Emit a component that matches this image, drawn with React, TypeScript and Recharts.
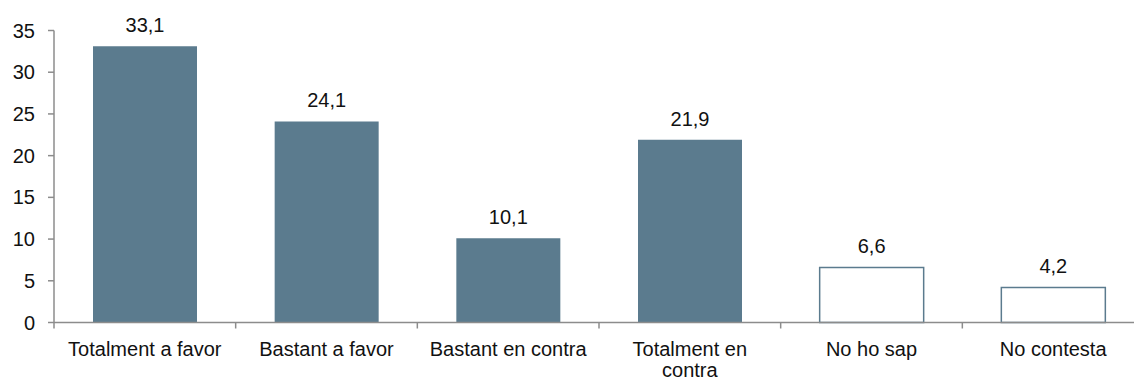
import { Bar, BarChart, Cell, LabelList, XAxis, YAxis } from "recharts";

const categories = ["Totalment a favor", "Bastant a favor", "Bastant en contra", "Totalment en contra", "No ho sap", "No contesta"];
const tickLines = [["Totalment a favor"], ["Bastant a favor"], ["Bastant en contra"], ["Totalment en", "contra"], ["No ho sap"], ["No contesta"]];
const values = [33.1, 24.1, 10.1, 21.9, 6.6, 4.2];
const outlined = [false, false, false, false, true, true];
const yTicks = [0, 5, 10, 15, 20, 25, 30, 35];

const data = categories.map((name, i) => ({ name, value: values[i], lines: tickLines[i], outlined: outlined[i] }));

const CHART_W = 1144;
const CHART_H = 380;
const Y_W = 54;
const BAR = "#5b7b8e";
const AXIS = "#8c8c8c";
const FONT = "'Liberation Sans', Arial, sans-serif";
const band = (CHART_W - Y_W) / categories.length;

function CategoryTick(props: any) {
  const { x, y, payload, index } = props;
  const lines: string[] = tickLines[index] ?? [payload.value];
  return (
    <g>
      <line x1={x - band / 2} x2={x - band / 2} y1={y} y2={y + 6} stroke={AXIS} strokeWidth={1.5} />
      <text x={x} y={y + 33.5} textAnchor="middle" fontSize={20} fill="#111" fontFamily={FONT}>
        {lines.map((l, i) => (
          <tspan key={i} x={x} dy={i === 0 ? 0 : 21}>
            {l}
          </tspan>
        ))}
      </text>
    </g>
  );
}

export default function App() {
  return (
    <div style={{ position: "absolute", left: 0, top: 0, width: 1134, height: 380, overflow: "hidden", background: "#fff" }}>
      <BarChart width={CHART_W} height={CHART_H} data={data} margin={{ top: 30.5, right: 0, bottom: 0, left: 0 }}>
        <XAxis
          dataKey="name"
          height={57.5}
          interval={0}
          tickLine={false}
          tickSize={0}
          tickMargin={0}
          stroke={AXIS}
          strokeWidth={1.5}
          tick={<CategoryTick />}
        />
        <YAxis
          width={Y_W}
          domain={[0, 35]}
          ticks={yTicks}
          interval={0}
          stroke={AXIS}
          strokeWidth={1.5}
          tickSize={6}
          tickMargin={13}
          tick={{ fontSize: 20, fill: "#111", fontFamily: FONT }}
        />
        <Bar dataKey="value" barSize={104} isAnimationActive={false}>
          {data.map((d, i) => (
            <Cell key={i} fill={d.outlined ? "#ffffff" : BAR} stroke={d.outlined ? BAR : "none"} strokeWidth={d.outlined ? 1.5 : 0} />
          ))}
          <LabelList
            dataKey="value"
            position="top"
            offset={14}
            formatter={(v: any) => Number(v).toFixed(1).replace(".", ",")}
            style={{ fontSize: 20, fill: "#111", fontFamily: FONT }}
          />
        </Bar>
      </BarChart>
    </div>
  );
}
